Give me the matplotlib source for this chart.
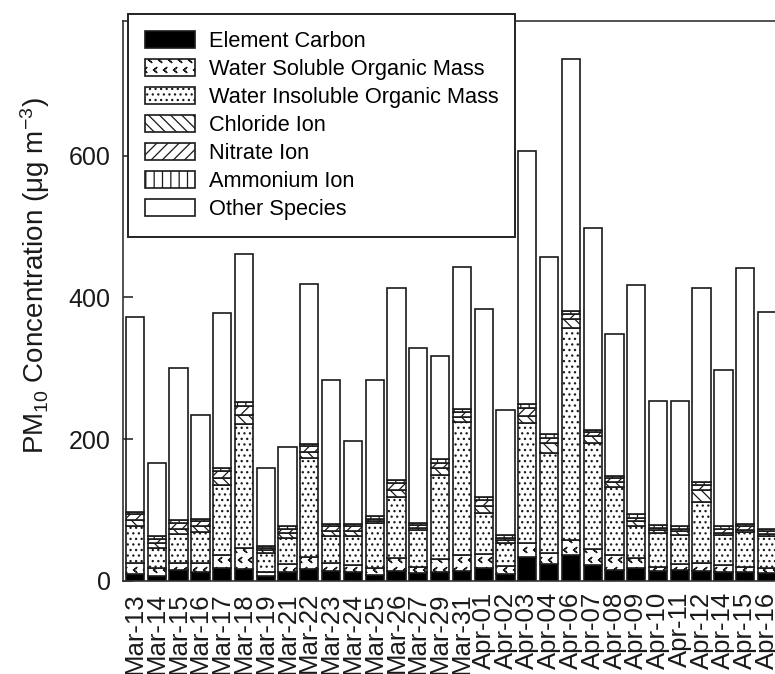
import numpy as np
import matplotlib
matplotlib.use("Agg")
import matplotlib.pyplot as plt
import matplotlib.hatch as mhatch
from matplotlib.path import Path

# Sampling dates
dates = ["Mar-13", "Mar-14", "Mar-15", "Mar-16", "Mar-17", "Mar-18", "Mar-19",
         "Mar-21", "Mar-22", "Mar-23", "Mar-24", "Mar-25", "Mar-26", "Mar-27",
         "Mar-29", "Mar-31", "Apr-01", "Apr-02", "Apr-03", "Apr-04", "Apr-06",
         "Apr-07", "Apr-08", "Apr-09", "Apr-10", "Apr-11", "Apr-12", "Apr-14",
         "Apr-15", "Apr-16"]

# PM10 components (ug m-3)
element_carbon = [10, 7.5, 15.5, 13, 18, 17, 7, 12, 17, 14, 13, 9, 14, 11, 13,
                  14, 19, 10, 34, 24, 37, 23, 15.5, 18, 14, 15.5, 14, 13, 12, 11]
wsom = [15, 10.5, 10.5, 12, 19, 29, 5, 11.5, 17, 11, 10, 10, 18, 9, 18,
        23, 19, 11, 20, 16, 21, 22, 21.5, 15, 6, 8.5, 12, 10, 8, 7]
wisom = [53, 29, 41, 44, 98, 176, 27, 37.5, 140, 38, 40, 63, 87, 52, 119,
         188, 58, 32, 169, 140, 299, 149, 96, 44, 48, 41, 86, 42, 49, 45]
chloride = [8, 6, 7, 8, 10, 12, 5, 7, 8, 8, 7, 3, 9, 3, 9,
            7, 10, 5, 10, 14, 13, 10, 7, 7, 4, 5, 16, 3, 3, 4]
nitrate = [8, 6, 8, 7, 10, 13, 3, 5, 8, 7, 7, 3, 10, 4, 8,
           7, 8, 3, 11, 8, 7, 6, 5, 5, 3, 3, 7, 5, 5, 4]
ammonium = [4, 4, 4, 4, 5, 5, 3, 4, 3, 3, 3, 3, 4, 3, 5,
            4, 5, 4, 5, 5, 4, 3, 3, 5, 4, 5, 5, 5, 3, 3]
other = [274, 103, 214, 146, 218, 209, 109, 112, 226, 203, 118, 192, 271, 246, 145,
         200, 265, 176, 357, 250, 356, 285, 200, 323, 175, 176, 273, 220, 362, 305]

series_labels = ["Element Carbon", "Water Soluble Organic Mass",
                 "Water Insoluble Organic Mass", "Chloride Ion", "Nitrate Ion",
                 "Ammonium Ion", "Other Species"]


class ChevronHatch(mhatch.Shapes):
    """Small open '<' marks on a staggered grid, used for the '*' hatch."""
    size = 0.32
    filled = False

    def __init__(self, hatch, density):
        self.num_rows = 10 * hatch.count('*')
        self.shape_vertices = np.array([[0.55, 0.8], [-0.45, 0.0], [0.55, -0.8]])
        self.shape_codes = np.array([Path.MOVETO, Path.LINETO, Path.LINETO],
                                    dtype=Path.code_type)
        super().__init__(hatch, density)


mhatch._hatch_types[mhatch._hatch_types.index(mhatch.Stars)] = ChevronHatch

plt.rcParams["font.family"] = ["Liberation Sans", "DejaVu Sans"]
plt.rcParams["mathtext.default"] = "regular"
plt.rcParams["hatch.linewidth"] = 0.9
plt.rcParams["hatch.color"] = "#111111"

W, H = 775, 674
fig = plt.figure(figsize=(W / 100, H / 100), dpi=100)
ax = fig.add_axes([123 / W, 93 / H, 656 / W, 560 / H])

styles = [
    dict(facecolor="black", hatch=None),
    dict(facecolor="white", hatch="*"),
    dict(facecolor="white", hatch="..."),
    dict(facecolor="white", hatch="\\\\\\"),
    dict(facecolor="white", hatch="///"),
    dict(facecolor="white", hatch="||"),
    dict(facecolor="white", hatch=None),
]
values = [element_carbon, wsom, wisom, chloride, nitrate, ammonium, other]

x = np.arange(len(dates))
bottom = np.zeros(len(dates))
for vals, label, style in zip(values, series_labels, styles):
    vals = np.asarray(vals, dtype=float)
    ax.bar(x, vals, width=0.84, bottom=bottom, edgecolor="#1a1a1a",
           linewidth=1.2, label=label, **style)
    bottom += vals

ax.set_xlim(-0.55, len(dates) - 0.45)
ax.set_ylim(0, 790)
ax.set_yticks([0, 200, 400, 600])
ax.set_xticks(x)
ax.set_xticklabels(dates, rotation=90)
ax.tick_params(axis="y", direction="in", length=7, width=1.1, pad=9,
               labelsize=18, colors="#1a1a1a")
ax.tick_params(axis="x", length=0, pad=8, labelsize=18.5, colors="#1a1a1a")
for sp in ax.spines.values():
    sp.set_color("#333333")
    sp.set_linewidth(1.2)

ax.set_ylabel("PM$_{10}$ Concentration (μg m$^{-3}$)", fontsize=20,
              color="#1a1a1a")
ax.yaxis.set_label_coords(-0.108, 0.545)

leg = ax.legend(loc="upper left", bbox_to_anchor=(128 / W, 1 - 14 / H),
                bbox_transform=fig.transFigure, borderaxespad=0,
                fontsize=15.7, frameon=True, fancybox=False, framealpha=1,
                edgecolor="#222222", handlelength=2.3, handleheight=0.85,
                handletextpad=0.62, labelspacing=0.31, borderpad=0.78)
leg.get_frame().set_linewidth(1.4)

fig.savefig("out.png", dpi=100, facecolor="white")
